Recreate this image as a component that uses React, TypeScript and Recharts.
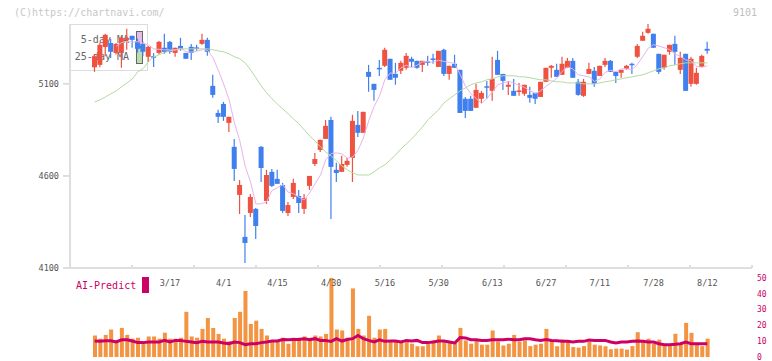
import React from 'react';
import { ComposedChart, Bar, Line, Scatter, XAxis, YAxis } from 'recharts';

// trading days shown on the chart (M/D)
const dates = [
  '2/25', '2/26', '2/27', '2/28', '3/3', '3/4', '3/5', '3/6', '3/7', '3/10',
  '3/11', '3/12', '3/13', '3/14', '3/17', '3/18', '3/19', '3/21', '3/24', '3/25',
  '3/26', '3/27', '3/28', '3/31', '4/1', '4/2', '4/3', '4/4', '4/7', '4/8',
  '4/9', '4/10', '4/11', '4/14', '4/15', '4/16', '4/17', '4/18', '4/21', '4/22',
  '4/23', '4/24', '4/25', '4/28', '4/30', '5/1', '5/2', '5/7', '5/8', '5/9',
  '5/12', '5/13', '5/14', '5/15', '5/16', '5/19', '5/20', '5/21', '5/22', '5/23',
  '5/26', '5/27', '5/28', '5/29', '5/30', '6/2', '6/3', '6/4', '6/5', '6/6',
  '6/9', '6/10', '6/11', '6/12', '6/13', '6/16', '6/17', '6/18', '6/19', '6/20',
  '6/23', '6/24', '6/25', '6/26', '6/27', '6/30', '7/1', '7/2', '7/3', '7/4',
  '7/7', '7/8', '7/9', '7/10', '7/11', '7/14', '7/15', '7/16', '7/17', '7/18',
  '7/22', '7/23', '7/24', '7/25', '7/28', '7/29', '7/30', '7/31', '8/1', '8/4',
  '8/5', '8/6', '8/7', '8/8', '8/12',
];

const opens = [
  5190, 5203, 5300, 5322, 5268, 5268, 5339, 5361, 5330, 5317,
  5247, 5250, 5268, 5296, 5328, 5268, 5306, 5268, 5301, 5298,
  5317, 5339, 5089, 4942, 4991, 4888, 4758, 4497, 4269, 4399,
  4421, 4758, 4464, 4622, 4584, 4551, 4399, 4486, 4491, 4421,
  4546, 4665, 4741, 4801, 4904, 4633, 4622, 4660, 4698, 4877,
  4834, 5165, 5100, 5187, 5198, 5236, 5154, 5171, 5187, 5236,
  5225, 5203, 5222, 5238, 5192, 5285, 5154, 5209, 5176, 5019,
  5019, 4970, 5019, 5087, 5062, 5230, 5154, 5084, 5062, 5060,
  5046, 5040, 5051, 5029, 5111, 5187, 5176, 5149, 5187, 5225,
  5111, 5035, 5154, 5171, 5143, 5203, 5225, 5165, 5160, 5182,
  5209, 5247, 5334, 5377, 5372, 5263, 5187, 5274, 5317, 5176,
  5263, 5100, 5100, 5192, 5290,
];

const highs = [
  5262, 5325, 5372, 5345, 5322, 5355, 5399, 5361, 5345, 5330,
  5306, 5268, 5333, 5372, 5333, 5296, 5350, 5268, 5317, 5312,
  5372, 5350, 5149, 4959, 5002, 4921, 4801, 4578, 4388, 4502,
  4426, 4763, 4633, 4638, 4633, 4562, 4459, 4584, 4524, 4502,
  4600, 4725, 4796, 4904, 4921, 4671, 4709, 4698, 4932, 4953,
  4948, 5203, 5100, 5230, 5296, 5236, 5214, 5225, 5268, 5247,
  5225, 5225, 5252, 5263, 5279, 5290, 5198, 5258, 5176, 5029,
  5035, 5100, 5062, 5116, 5247, 5279, 5154, 5116, 5127, 5105,
  5095, 5084, 5051, 5111, 5187, 5203, 5209, 5247, 5241, 5241,
  5127, 5127, 5214, 5192, 5198, 5241, 5230, 5165, 5176, 5203,
  5214, 5317, 5383, 5426, 5372, 5263, 5258, 5312, 5361, 5274,
  5263, 5247, 5187, 5258, 5328,
];

const lows = [
  5165, 5190, 5250, 5240, 5260, 5187, 5285, 5296, 5270, 5250,
  5220, 5192, 5260, 5263, 5263, 5247, 5280, 5236, 5230, 5280,
  5312, 5252, 5024, 4888, 4899, 4839, 4573, 4393, 4127, 4377,
  4258, 4567, 4448, 4540, 4557, 4399, 4383, 4475, 4399, 4393,
  4524, 4654, 4730, 4801, 4366, 4567, 4622, 4650, 4567, 4812,
  4834, 5057, 5008, 5143, 5192, 5122, 5095, 5154, 5176, 5192,
  5182, 5165, 5198, 5209, 5192, 5143, 5122, 5187, 4942, 4915,
  4953, 4970, 4997, 5019, 5008, 5149, 5067, 5040, 5035, 5035,
  5035, 4997, 4991, 5029, 5111, 5133, 5138, 5149, 5187, 5133,
  5035, 5029, 5154, 5084, 5143, 5192, 5165, 5105, 5133, 5176,
  5154, 5241, 5334, 5372, 5296, 5154, 5176, 5258, 5203, 5154,
  5062, 5084, 5095, 5192, 5263,
];

const closes = [
  5250, 5312, 5366, 5274, 5317, 5350, 5350, 5339, 5290, 5274,
  5301, 5245, 5328, 5274, 5274, 5296, 5290, 5236, 5268, 5294,
  5339, 5274, 5040, 4921, 4921, 4921, 4638, 4551, 4236, 4486,
  4328, 4643, 4605, 4546, 4557, 4410, 4442, 4562, 4453, 4480,
  4600, 4692, 4796, 4872, 4649, 4616, 4665, 4682, 4899, 4834,
  4948, 5138, 5067, 5182, 5285, 5122, 5133, 5214, 5252, 5220,
  5187, 5225, 5216, 5234, 5279, 5154, 5198, 5187, 4942, 4953,
  4953, 5067, 5051, 5081, 5127, 5149, 5116, 5095, 5035, 5064,
  5095, 5024, 5019, 5111, 5187, 5198, 5138, 5209, 5225, 5133,
  5040, 5111, 5181, 5100, 5198, 5225, 5165, 5143, 5176, 5198,
  5203, 5306, 5361, 5399, 5296, 5165, 5258, 5312, 5274, 5241,
  5062, 5236, 5160, 5252, 5280,
];

// 25-day moving average as drawn (green line)
const ma25 = [
  5002, 5013, 5029, 5046, 5062, 5084, 5105, 5127, 5165, 5182,
  5220, 5247, 5258, 5269, 5279, 5285, 5290, 5290, 5290, 5290,
  5290, 5290, 5285, 5279, 5274, 5263, 5247, 5236, 5214, 5176,
  5133, 5089, 5051, 5019, 4991, 4964, 4937, 4910, 4883, 4850,
  4817, 4790, 4758, 4730, 4709, 4682, 4654, 4633, 4616, 4605,
  4605, 4605, 4622, 4644, 4660, 4687, 4714, 4747, 4774, 4801,
  4834, 4866, 4904, 4932, 4959, 4997, 5019, 5040, 5062, 5078,
  5095, 5105, 5111, 5122, 5127, 5138, 5144, 5144, 5144, 5138,
  5138, 5133, 5127, 5122, 5122, 5116, 5111, 5111, 5105, 5105,
  5105, 5100, 5100, 5100, 5105, 5111, 5116, 5122, 5127, 5133,
  5138, 5144, 5149, 5160, 5171, 5182, 5187, 5198, 5203, 5209,
  5214, 5214, 5214, 5214, 5214,
];

const volumes = [
  13.6, 11.6, 14, 17.4, 10.5, 18.4, 14, 11.6, 12.2, 9.7,
  13, 13, 11.6, 15.4, 11.6, 11.6, 12.2, 28.6, 13, 12.2,
  17.8, 24.7, 18.4, 14.6, 11.6, 10, 24.7, 28.6, 41.8, 20.9,
  23, 17.8, 13.6, 10, 10.5, 12.2, 8.4, 12.2, 12.2, 13,
  12.2, 13.6, 13, 14.6, 52, 17.4, 16.8, 12.2, 43.4, 17.8,
  13.6, 26.1, 12.2, 17.4, 17.8, 9.9, 10.1, 9.9, 10.5, 8.4,
  6.8, 6.8, 8.4, 10.5, 13.6, 10.5, 9.7, 9.1, 18.4, 10.5,
  8.4, 10.5, 7.8, 7.8, 16.8, 9.9, 7.3, 8.4, 14, 9.7,
  10.5, 6.9, 7.8, 8.4, 17.8, 10.5, 6.8, 11, 9.7, 6.3,
  5.9, 6.9, 9.7, 7.8, 7.3, 6.8, 4.9, 5.3, 5.3, 4.7,
  6.9, 15.7, 9.7, 11.6, 8.4, 11, 6.9, 6.9, 14.7, 8.4,
  21.6, 15.3, 8.4, 6.9, 11.6,
];

const aiPredict = [
  10.1, 9.9, 10.3, 10.3, 9.5, 10.9, 10.9, 10.1, 9.1, 9.1,
  9.5, 9.5, 9.5, 10.5, 9.5, 10.5, 10.5, 9.9, 9.5, 9.1,
  9.9, 9.5, 9.5, 9.5, 8.9, 8.4, 9.5, 9.1, 7.8, 8.4,
  8.4, 9.1, 9.5, 10.1, 10.1, 11.1, 10.9, 11.1, 11.1, 11.6,
  10.9, 11.6, 10.5, 10.5, 9.9, 11.6, 10.1, 11.1, 11.6, 13.6,
  11.6, 10.5, 9.5, 10.9, 9.9, 10.1, 10.1, 9.5, 10.5, 10.1,
  10.5, 9.1, 9.1, 9.5, 10.1, 10.1, 9.5, 8.9, 12.3, 12.1,
  10.9, 10.9, 10.5, 10.5, 10.9, 10.9, 10.9, 11.3, 10.9, 10.9,
  11.6, 11.6, 10.9, 10.5, 11.1, 10.5, 10.3, 9.9, 9.9, 9.5,
  9.9, 9.9, 10.7, 10.5, 10.5, 10.5, 9.5, 8.9, 9.5, 9.5,
  9.9, 10.1, 9.9, 9.5, 9.5, 8.4, 7.8, 7.8, 8, 8.4,
  9.5, 8.4, 8.4, 8.4, 8.4,
];

const labelDates = ['3/17', '4/1', '4/15', '4/30', '5/16', '5/30', '6/13', '6/27', '7/11', '7/28', '8/12'];
const priceTicks = [4100, 4600, 5100];
const volumeTicks = [0, 10, 20, 30, 40, 50];
// evenly spaced tick marks along the price chart's bottom axis
const gridSteps = [0, 1, 2, 3, 4, 5, 6, 7, 8, 9, 10, 11];

const RED = '#ef5240';
const BLUE = '#4080ee';
const AXIS = '#dedede';
const MAGENTA = '#cc0066';
const MONO = '"DejaVu Sans Mono", monospace';

const priceData = dates.map((date, i) => {
  // 5-day average of closes
  let ma5: number | null = null;
  if (i >= 4) {
    let sum = 0;
    for (let k = i - 4; k <= i; k++) sum += closes[k];
    ma5 = sum / 5;
  }
  return {
    date,
    open: opens[i],
    high: highs[i],
    low: lows[i],
    close: closes[i],
    range: [lows[i], highs[i]],
    ma5,
    ma25: ma25[i],
  };
});

const gridData = gridSteps.map((step) => ({ step, base: priceTicks[0] }));
const volumeData = dates.map((date, i) => ({ date, volume: volumes[i], ai: aiPredict[i] }));

const Candle = (props: any) => {
  const { x, width, payload } = props;
  let { y, height } = props;
  if (height < 0) {
    y += height;
    height = -height;
  }
  const { open, close, high, low } = payload;
  const color = close >= open ? RED : BLUE;
  const k = high === low ? 0 : height / (high - low);
  const yOpen = y + (high - open) * k;
  const yClose = y + (high - close) * k;
  const bodyTop = Math.min(yOpen, yClose);
  const bodyH = Math.max(Math.abs(yOpen - yClose), 1.5);
  const cx = x + width / 2;
  return (
    <g>
      <line x1={cx} x2={cx} y1={y} y2={y + height} stroke={color} strokeWidth={1.2} />
      <rect x={x} y={bodyTop} width={width} height={bodyH} fill={color} />
    </g>
  );
};

// small axis tick straddling the bottom line
const GridTick = (props: any) => {
  const { cx, cy } = props;
  if (cx == null || cy == null) return <g />;
  return <line x1={cx} x2={cx} y1={cy - 3} y2={cy + 5} stroke={AXIS} strokeWidth={2} />;
};

const abs = (s: React.CSSProperties): React.CSSProperties => ({ position: 'absolute', ...s });

export default function App() {
  return (
    <div style={abs({ left: 0, top: 0, width: 772, height: 361, background: '#fff', fontFamily: MONO, overflow: 'hidden' })}>
      <div style={abs({ left: 14, top: 6, fontSize: 10, lineHeight: '13px', color: '#c8c8c8' })}>(C)https://chartnavi.com/</div>
      <div style={abs({ right: 15, top: 6, fontSize: 10, lineHeight: '13px', color: '#c0c0c0' })}>9101</div>

      {/* legend box sits under the candles */}
      <div style={abs({ left: 70, top: 24, width: 78, height: 47, border: '1px solid #dcdcdc', boxSizing: 'border-box', background: '#fff' })} />
      <div style={abs({ left: 70, top: 34, width: 59, textAlign: 'right', fontSize: 10, lineHeight: '12px', color: '#666' })}>5-day MA</div>
      <div style={abs({ left: 70, top: 51, width: 59, textAlign: 'right', fontSize: 10, lineHeight: '12px', color: '#666' })}>25-day MA</div>
      <div style={abs({ left: 136, top: 31, width: 7, height: 16, border: '1px solid #666', boxSizing: 'border-box', background: '#e8bce8' })} />
      <div style={abs({ left: 136, top: 47, width: 7, height: 17, border: '1px solid #666', boxSizing: 'border-box', background: '#bcdcb2' })} />

      <div style={abs({ left: 0, top: 0 })}>
        <ComposedChart width={772} height={290} data={priceData} margin={{ top: 24, right: 20, bottom: 17, left: 0 }}>
          <XAxis xAxisId="grid" dataKey="step" type="number" domain={[0, 11]} hide />
          <XAxis
            dataKey="date"
            padding={{ left: 22, right: 42 }}
            tick={false}
            tickLine={false}
            height={5}
            axisLine={{ stroke: AXIS, strokeWidth: 2 }}
          />
          <YAxis
            domain={[4100, 5425]}
            ticks={priceTicks}
            allowDataOverflow
            width={70}
            tickSize={7}
            tickMargin={4}
            axisLine={{ stroke: AXIS, strokeWidth: 2 }}
            tickLine={{ stroke: AXIS, strokeWidth: 2 }}
            tick={{ fill: '#555', fontSize: 8.5, fontFamily: MONO }}
          />
          <Scatter xAxisId="grid" data={gridData} dataKey="base" shape={GridTick} isAnimationActive={false} />
          <Line dataKey="ma25" stroke="#b3dba3" strokeWidth={1} dot={false} isAnimationActive={false} />
          <Line dataKey="ma5" stroke="#e8b4e8" strokeWidth={1} dot={false} isAnimationActive={false} />
          <Bar dataKey="range" barSize={5} shape={Candle} isAnimationActive={false} />
        </ComposedChart>
      </div>

      <div style={abs({ left: 0, top: 268 })}>
        <ComposedChart width={772} height={93} data={volumeData} margin={{ top: 10, right: 0, bottom: 4, left: 70 }}>
          <XAxis
            dataKey="date"
            orientation="top"
            mirror
            padding={{ left: 22, right: 42 }}
            ticks={labelDates}
            interval={0}
            axisLine={false}
            tickLine={false}
            tickSize={0}
            tickMargin={2}
            tick={{ fill: '#555', fontSize: 8.5, fontFamily: MONO }}
          />
          <YAxis
            orientation="right"
            domain={[0, 50]}
            ticks={volumeTicks}
            interval={0}
            allowDataOverflow
            width={20}
            axisLine={false}
            tickLine={false}
            tickSize={0}
            tickMargin={5}
            tick={{ fill: MAGENTA, fontSize: 8, fontFamily: MONO }}
          />
          <Bar dataKey="volume" barSize={4} fill="#f29441" isAnimationActive={false} />
          <Line dataKey="ai" stroke={MAGENTA} strokeWidth={3} dot={false} isAnimationActive={false} />
        </ComposedChart>
      </div>

      <div style={abs({ left: 76, top: 280, fontSize: 10, lineHeight: '12px', color: MAGENTA })}>AI-Predict</div>
      <div style={abs({ left: 142, top: 277, width: 7, height: 16, background: MAGENTA })} />
    </div>
  );
}
